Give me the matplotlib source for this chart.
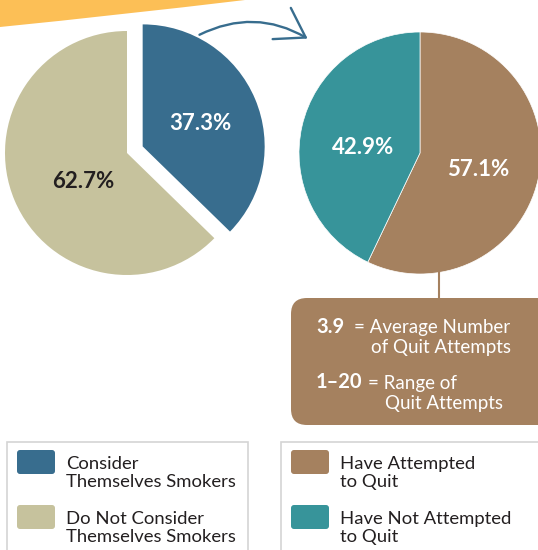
import matplotlib.pyplot as plt
from matplotlib.patches import FancyBboxPatch, Rectangle, PathPatch
from matplotlib.path import Path

# data
smoker_labels = ['Consider\nThemselves Smokers', 'Do Not Consider\nThemselves Smokers']
smoker_values = [37.3, 62.7]
quit_labels = ['Have Attempted\nto Quit', 'Have Not Attempted\nto Quit']
quit_values = [57.1, 42.9]
avg_attempts = '3.9'
range_attempts = '1\u201320'

smoker_colors = ['#386d8e', '#c6c29d']
quit_colors = ['#a5815f', '#37949a']
text_dark = '#231f20'

plt.rcParams['font.family'] = ['Lato', 'DejaVu Sans']

W, H = 538, 550
fig = plt.figure(figsize=(W / 100, H / 100), dpi=100)
ax = fig.add_axes([0, 0, 1, 1])

def Y(y):
    # picture coords (top down) -> axes coords
    return H - y

# orange swoosh in the corner
verts = [(0, Y(0)), (0, Y(27)), (120, Y(15)), (245, Y(0)), (0, Y(0))]
codes = [Path.MOVETO, Path.LINETO, Path.CURVE3, Path.CURVE3, Path.CLOSEPOLY]
ax.add_patch(PathPatch(Path(verts, codes), facecolor='#fcbf56', edgecolor='none'))

# left pie (exploded smokers slice)
ax.pie(smoker_values, colors=smoker_colors, startangle=90, counterclock=False,
       radius=122, center=(127, Y(153)), explode=[17, 0],
       wedgeprops=dict(linewidth=0), frame=True)
# right pie
ax.pie(quit_values, colors=quit_colors, startangle=90, counterclock=False,
       radius=121, center=(420, Y(153)),
       wedgeprops=dict(edgecolor='white', linewidth=0.5), frame=True)
ax.set_xlim(0, W)
ax.set_ylim(0, H)
ax.set_aspect('equal')
ax.axis('off')

pct_kw = dict(fontsize=16, fontweight='bold', ha='center', va='center')
ax.text(200, Y(123), f'{smoker_values[0]}%', color='white', **pct_kw)
ax.text(83, Y(182), f'{smoker_values[1]}%', color=text_dark, **pct_kw)
ax.text(478, Y(169), f'{quit_values[0]}%', color='white', **pct_kw)
ax.text(363, Y(147), f'{quit_values[1]}%', color='white', **pct_kw)

# curved arrow between the pies
ax.annotate('', xy=(310, Y(40)), xytext=(197, Y(36)),
            arrowprops=dict(arrowstyle='->,head_length=2.0,head_width=1.3',
                            connectionstyle='arc3,rad=-0.28',
                            color='#386d8e', lw=1.7))

# connector and info box
ax.plot([439, 439], [Y(273), Y(299)], color='#a5815f', lw=1.5)
ax.add_patch(FancyBboxPatch((291, Y(425)), 270, 127,
                            boxstyle='round,pad=0,rounding_size=16',
                            facecolor='#a5815f', edgecolor='none'))
info_kw = dict(color='white', fontsize=13.5, va='center')
num_kw = dict(color='white', fontsize=14.5, fontweight='bold', va='center')
ax.text(316, Y(327), avg_attempts, **num_kw)
ax.text(354, Y(328), '= Average Number', **info_kw)
ax.text(511, Y(348), 'of Quit Attempts', ha='right', **info_kw)
ax.text(316, Y(382), range_attempts, **num_kw)
ax.text(368, Y(383), '= Range of', **info_kw)
ax.text(503, Y(403), 'Quit Attempts', ha='right', **info_kw)

# legends
def legend_box(x0, x1, labels, colors):
    ax.add_patch(Rectangle((x0, Y(560)), x1 - x0, 118, facecolor='white',
                           edgecolor='#d4d4d4', lw=1.2))
    for i, (lab, col) in enumerate(zip(labels, colors)):
        top = 450 + i * 55
        ax.add_patch(FancyBboxPatch((x0 + 10, Y(top + 24)), 38, 24,
                                    boxstyle='round,pad=0,rounding_size=3',
                                    facecolor=col, edgecolor='none'))
        ax.text(x0 + 59, Y(top + 23), lab, fontsize=13.3, color=text_dark,
                va='center', linespacing=1.1)

legend_box(7, 248, smoker_labels, smoker_colors)
legend_box(281, 545, quit_labels, quit_colors)

fig.savefig('out.png', dpi=100)
